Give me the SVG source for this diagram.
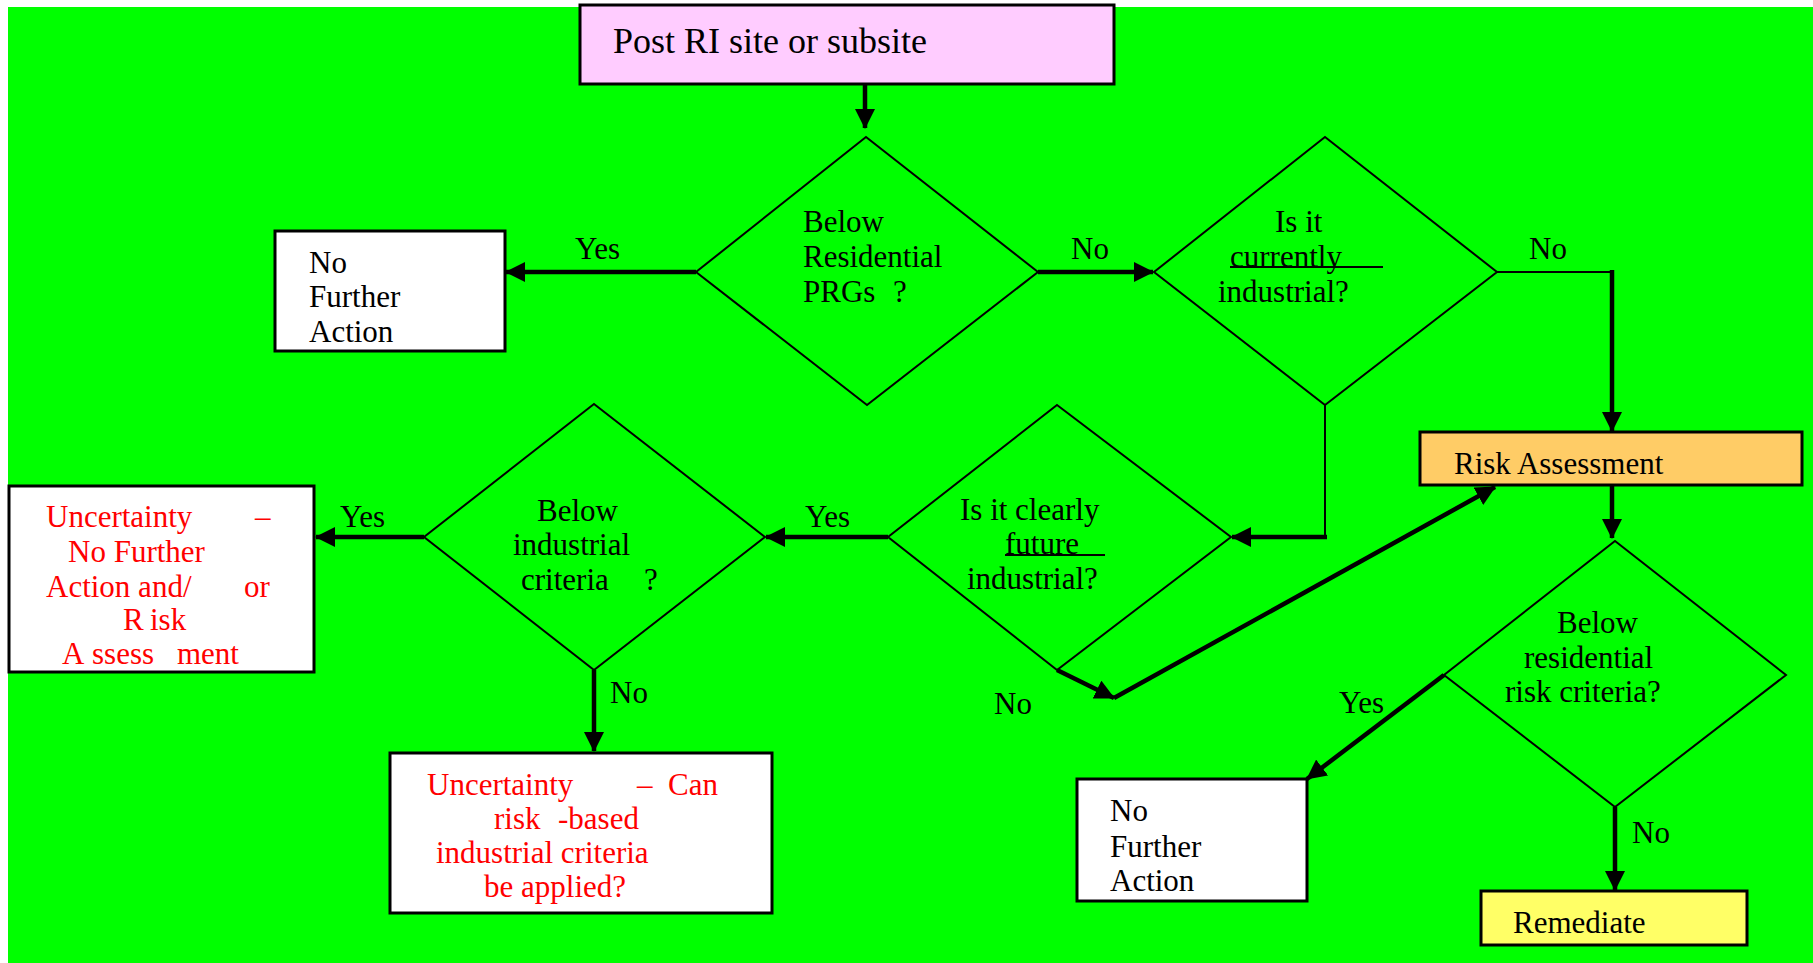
<svg xmlns="http://www.w3.org/2000/svg" width="1813" height="963" viewBox="0 0 1813 963">
  <defs>
    <style>
      .txt { font-family: 'Liberation Serif', 'Tinos', 'DejaVu Serif', 'Noto Serif', serif; font-size: 31px; fill: #000; }
      .red { fill: #ff0000; }
      .box { stroke: #000; stroke-width: 3; }
      .dia { fill: none; stroke: #000; stroke-width: 2; }
      .thick { fill: none; stroke: #000; stroke-width: 4.5; }
      .thin { fill: none; stroke: #000; stroke-width: 2; }
      .arrow { marker-end: url(#head); }
    </style>
    <marker id="head" viewBox="0 0 20 20" refX="19" refY="10" markerWidth="20" markerHeight="20" markerUnits="userSpaceOnUse" orient="auto">
      <path d="M0,0 L20,10 L0,20 z" fill="#000"/>
    </marker>
  </defs>

  <!-- page background -->
  <rect x="0" y="0" width="1813" height="963" fill="#ffffff"/>
  <rect x="8" y="7" width="1805" height="956" fill="#00ff00"/>

  <!-- connectors -->
  <g id="connectors">
    <line class="thick arrow" x1="865" y1="85" x2="865" y2="128"/>
    <line class="thick arrow" x1="696" y1="272" x2="506" y2="272"/>
    <line class="thick arrow" x1="1038" y1="272" x2="1153" y2="272"/>
    <polyline class="thin" points="1497,272 1612,272"/>
    <line class="thick arrow" x1="1612" y1="270" x2="1612" y2="431"/>
    <line class="thin" x1="1325" y1="405" x2="1325" y2="537"/>
    <line class="thick arrow" x1="1327" y1="537" x2="1232" y2="537"/>
    <line class="thick arrow" x1="888" y1="537" x2="766" y2="537"/>
    <line class="thick arrow" x1="424" y1="537" x2="316" y2="537"/>
    <line class="thick arrow" x1="594" y1="670" x2="594" y2="751"/>
    <line class="thick arrow" x1="1057" y1="670" x2="1114" y2="698"/>
    <line class="thick arrow" x1="1114" y1="698" x2="1495" y2="487"/>
    <line class="thick arrow" x1="1612" y1="485" x2="1612" y2="538"/>
    <line class="thick arrow" x1="1444" y1="675" x2="1307" y2="779"/>
    <line class="thick arrow" x1="1615" y1="807" x2="1615" y2="890"/>

    <!-- branch labels -->
    <text class="txt" x="575" y="259">Yes</text>
    <text class="txt" x="1071" y="259">No</text>
    <text class="txt" x="1529" y="259">No</text>
    <text class="txt" x="805" y="527">Yes</text>
    <text class="txt" x="340" y="527">Yes</text>
    <text class="txt" x="610" y="703">No</text>
    <text class="txt" x="994" y="714">No</text>
    <text class="txt" x="1339" y="713">Yes</text>
    <text class="txt" x="1632" y="843">No</text>
  </g>

  <!-- start box -->
  <g id="start">
    <rect class="box" x="580" y="5" width="534" height="79" fill="#ffccff"/>
    <text class="txt" x="613" y="53" style="font-size:36px">Post RI site or subsite</text>
  </g>

  <!-- decision: below residential PRGs -->
  <g id="below-residential-prgs">
    <polygon class="dia" points="866,137 1038,272 867,405 696,272"/>
    <text class="txt" x="803" y="232">Below</text>
    <text class="txt" x="803" y="267">Residential</text>
    <text class="txt" x="803" y="302">PRGs</text>
    <text class="txt" x="893" y="302">?</text>
  </g>

  <!-- outcome: no further action (upper) -->
  <g id="nfa-upper">
    <rect class="box" x="275" y="231" width="230" height="120" fill="#ffffff"/>
    <text class="txt" x="309" y="273">No</text>
    <text class="txt" x="309" y="307">Further</text>
    <text class="txt" x="309" y="342">Action</text>
  </g>

  <!-- decision: currently industrial -->
  <g id="currently-industrial">
    <polygon class="dia" points="1325,137 1497,272 1325,405 1154,272"/>
    <text class="txt" x="1275" y="232">Is it</text>
    <text class="txt" x="1230" y="267">currently</text>
    <line x1="1230" y1="267" x2="1383" y2="267" stroke="#000" stroke-width="2"/>
    <text class="txt" x="1218" y="302">industrial?</text>
  </g>

  <!-- process: risk assessment -->
  <g id="risk-assessment">
    <rect class="box" x="1420" y="432" width="382" height="53" fill="#ffcc66"/>
    <text class="txt" x="1454" y="474">Risk Assessment</text>
  </g>

  <!-- decision: clearly future industrial -->
  <g id="future-industrial">
    <polygon class="dia" points="1057,405 1231,537 1057,670 888,537"/>
    <text class="txt" x="960" y="520">Is it clearly</text>
    <text class="txt" x="1005" y="554">future</text>
    <line x1="1005" y1="555" x2="1105" y2="555" stroke="#000" stroke-width="2"/>
    <text class="txt" x="967" y="589">industrial?</text>
  </g>

  <!-- decision: below industrial criteria -->
  <g id="below-industrial">
    <polygon class="dia" points="594,404 765,537 594,670 424,537"/>
    <text class="txt" x="537" y="521">Below</text>
    <text class="txt" x="513" y="555">industrial</text>
    <text class="txt" x="521" y="590">criteria</text>
    <text class="txt" x="644" y="590">?</text>
  </g>

  <!-- outcome: uncertainty, NFA and/or risk assessment -->
  <g id="uncertainty-nfa">
    <rect class="box" x="9" y="486" width="305" height="186" fill="#ffffff"/>
    <text class="txt red" x="46" y="527">Uncertainty</text>
    <text class="txt red" x="255" y="527">–</text>
    <text class="txt red" x="68" y="562">No Further</text>
    <text class="txt red" x="46" y="597">Action and/</text>
    <text class="txt red" x="244" y="597">or</text>
    <text class="txt red" x="123" y="630">R</text>
    <text class="txt red" x="150" y="630">isk</text>
    <text class="txt red" x="62" y="664">A</text>
    <text class="txt red" x="92" y="664">ssess</text>
    <text class="txt red" x="177" y="664">ment</text>
  </g>

  <!-- outcome: uncertainty, risk-based industrial criteria -->
  <g id="uncertainty-criteria">
    <rect class="box" x="390" y="753" width="382" height="160" fill="#ffffff"/>
    <text class="txt red" x="427" y="795">Uncertainty</text>
    <text class="txt red" x="637" y="795">–</text>
    <text class="txt red" x="668" y="795">Can</text>
    <text class="txt red" x="494" y="829">risk</text>
    <text class="txt red" x="558" y="829">-based</text>
    <text class="txt red" x="436" y="863">industrial criteria</text>
    <text class="txt red" x="484" y="897">be applied?</text>
  </g>

  <!-- decision: below residential risk criteria -->
  <g id="below-residential-risk">
    <polygon class="dia" points="1615,541 1786,675 1615,807 1444,675"/>
    <text class="txt" x="1557" y="633">Below</text>
    <text class="txt" x="1524" y="668">residential</text>
    <text class="txt" x="1505" y="702">risk criteria?</text>
  </g>

  <!-- outcome: no further action (lower) -->
  <g id="nfa-lower">
    <rect class="box" x="1077" y="779" width="230" height="122" fill="#ffffff"/>
    <text class="txt" x="1110" y="821">No</text>
    <text class="txt" x="1110" y="857">Further</text>
    <text class="txt" x="1110" y="891">Action</text>
  </g>

  <!-- outcome: remediate -->
  <g id="remediate">
    <rect class="box" x="1481" y="891" width="266" height="54" fill="#ffff66"/>
    <text class="txt" x="1513" y="933">Remediate</text>
  </g>
</svg>
